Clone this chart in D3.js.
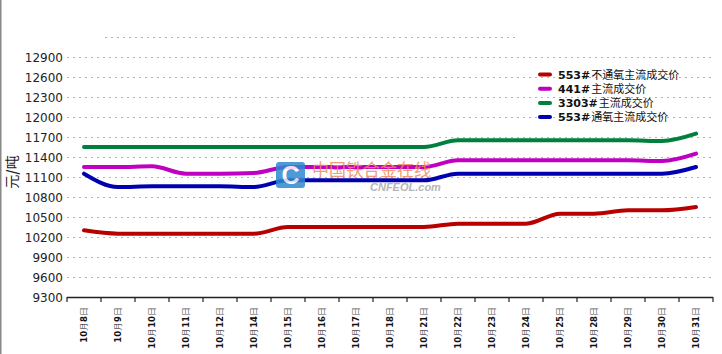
<!DOCTYPE html>
<html>
<head>
<meta charset="utf-8">
<script src="https://cdn.jsdelivr.net/npm/d3@7"></script>
<style>
  body { margin: 0; background: #fff; }
  svg { display: block; }
</style>
</head>
<body>
<div class="chart"></div>
<script>
var dates = ['10月8日','10月9日','10月10日','10月11日','10月12日','10月14日','10月15日','10月16日','10月17日','10月18日',
             '10月21日','10月22日','10月23日','10月24日','10月25日','10月28日','10月29日','10月30日','10月31日'];

var price553NoOxy = [10300,10250,10250,10250,10250,10250,10350,10350,10350,10350,10350,10400,10400,10400,10550,10550,10600,10600,10650];
var price441      = [11250,11250,11260,11150,11150,11160,11250,11250,11250,11250,11250,11350,11350,11350,11350,11350,11350,11340,11450];
var price3303     = [11550,11550,11550,11550,11550,11550,11550,11550,11550,11550,11550,11650,11650,11650,11650,11650,11650,11640,11750];
var price553Oxy   = [11150,10950,10960,10960,10960,10950,11050,11050,11050,11050,11050,11150,11150,11150,11150,11150,11150,11150,11250];

var seriesNames  = ['553#不通氧主流成交价','441#主流成交价','3303#主流成交价','553#通氧主流成交价'];
var seriesColors = ['#b80000','#c000c0','#00803c','#0000b0'];
var seriesValues = [price553NoOxy, price441, price3303, price553Oxy];

var yTicks = [9300,9600,9900,10200,10500,10800,11100,11400,11700,12000,12300,12600,12900];

var W = 722, H = 354;
var svg = d3.select('.chart')
            .append('svg')
            .attr('width', W)
            .attr('height', H);

// left border of the frame
svg.append('line')
   .attr('x1', 0.75).attr('x2', 0.75)
   .attr('y1', 0).attr('y2', H)
   .attr('stroke', '#888')
   .attr('stroke-width', 1.5);

var x = d3.scaleBand().domain(dates).range([67, 713]);
var y = d3.scaleLinear().domain([9300, 13200]).range([297, 37]);

// grid
svg.append('g').selectAll('line')
   .data(yTicks.slice(1))
   .enter().append('line')
   .attr('x1', 67).attr('x2', 712)
   .attr('y1', function(d){ return y(d) + 0.5; })
   .attr('y2', function(d){ return y(d) + 0.5; })
   .attr('stroke', '#b4b4b4')
   .attr('stroke-dasharray', '2,4');

svg.append('line')
   .attr('x1', 105).attr('x2', 515)
   .attr('y1', y(13200) + 0.5).attr('y2', y(13200) + 0.5)
   .attr('stroke', '#b4b4b4')
   .attr('stroke-dasharray', '2,4');

// y labels
svg.append('g').selectAll('text')
   .data(yTicks)
   .enter().append('text')
   .attr('x', 63)
   .attr('y', function(d){ return y(d) + 4.5; })
   .attr('text-anchor', 'end')
   .attr('font-family', 'DejaVu Sans, sans-serif')
   .attr('font-size', '12px')
   .attr('fill', '#222')
   .text(function(d){ return d; });

// y title
svg.append('text')
   .attr('transform', 'translate(17,172) rotate(-90)')
   .attr('text-anchor', 'middle')
   .attr('font-family', 'Noto Sans CJK SC, sans-serif')
   .attr('font-size', '14px')
   .attr('fill', '#222')
   .html('元<tspan font-weight="bold">/</tspan>吨');

// x axis
var xAxis = svg.append('g');
xAxis.append('line')
     .attr('x1', 67).attr('x2', 713)
     .attr('y1', 297.5).attr('y2', 297.5)
     .attr('stroke', '#222')
     .attr('stroke-width', 1.5);
xAxis.selectAll('.tick')
     .data(dates.concat(['end']))
     .enter().append('line')
     .attr('x1', function(d, i){ return 67 + i * x.bandwidth(); })
     .attr('x2', function(d, i){ return 67 + i * x.bandwidth(); })
     .attr('y1', 297).attr('y2', 302)
     .attr('stroke', '#222')
     .attr('stroke-width', 1.2);

xAxis.selectAll('.lbl')
     .data(dates)
     .enter().append('text')
     .attr('transform', function(d){ return 'translate(' + (x(d) + x.bandwidth() / 2 + 3) + ',307) rotate(-90)'; })
     .attr('text-anchor', 'end')
     .attr('font-family', 'DejaVu Sans, sans-serif')
     .attr('font-size', '8.5px')
     .attr('font-weight', 'bold')
     .attr('fill', '#111')
     .each(function(d){
        var m = d.match(/(\d+)月(\d+)日/);
        var t = d3.select(this);
        t.append('tspan').text(m[1]);
        t.append('tspan').attr('font-weight', 'normal').attr('fill', '#555').text('月');
        t.append('tspan').text(m[2]);
        t.append('tspan').attr('font-weight', 'normal').attr('fill', '#555').text('日');
     });

// lines
var line = d3.line()
             .x(function(d, i){ return x(dates[i]) + x.bandwidth() / 2; })
             .y(function(d){ return y(d); })
             .curve(d3.curveMonotoneX);

svg.append('g').selectAll('path')
   .data(seriesValues)
   .enter().append('path')
   .attr('d', line)
   .attr('fill', 'none')
   .attr('stroke', function(d, i){ return seriesColors[i]; })
   .attr('stroke-width', 4)
   .attr('stroke-linecap', 'round');

// watermark, sits over the lines
var wm = svg.append('g').attr('opacity', 0.85);
wm.append('rect')
  .attr('x', 276).attr('y', 162)
  .attr('width', 29).attr('height', 26)
  .attr('rx', 3)
  .attr('fill', '#2f8ad0');
wm.append('text')
  .attr('x', 290.5).attr('y', 184)
  .attr('text-anchor', 'middle')
  .attr('font-family', 'Liberation Sans, sans-serif')
  .attr('font-weight', 'bold')
  .attr('font-size', '25px')
  .attr('fill', '#fff')
  .text('C');
wm.append('text')
  .attr('x', 312).attr('y', 176)
  .attr('font-family', 'Noto Sans CJK SC, sans-serif')
  .attr('font-size', '17px')
  .attr('fill', '#f28a5a')
  .text('中国铁合金在线');
wm.append('text')
  .attr('x', 370).attr('y', 191)
  .attr('font-family', 'Liberation Sans, sans-serif')
  .attr('font-style', 'italic')
  .attr('font-weight', 'bold')
  .attr('font-size', '11px')
  .attr('fill', '#aaa')
  .text('CNFEOL.com');

// legend
var legend = svg.append('g').selectAll('g')
                .data(seriesNames)
                .enter().append('g')
                .attr('transform', function(d, i){ return 'translate(538,' + (74.5 + i * 14.2) + ')'; });
legend.append('line')
      .attr('x1', 2).attr('x2', 12)
      .attr('stroke', function(d, i){ return seriesColors[i]; })
      .attr('stroke-width', 4)
      .attr('stroke-linecap', 'round');
legend.each(function(d){
  var k = d.indexOf('#') + 1;
  var g = d3.select(this);
  var code = g.append('text')
              .attr('x', 20).attr('y', 4)
              .attr('font-family', 'DejaVu Sans, sans-serif')
              .attr('font-weight', 'bold')
              .attr('font-size', '11px')
              .attr('fill', '#111')
              .text(d.slice(0, k));
  var w = code.node().getComputedTextLength();
  g.append('text')
   .attr('x', 21 + w).attr('y', 4)
   .attr('font-family', 'Noto Sans CJK SC, sans-serif')
   .attr('font-size', '11px')
   .attr('fill', '#111')
   .text(d.slice(k));
});
</script>
</body>
</html>
